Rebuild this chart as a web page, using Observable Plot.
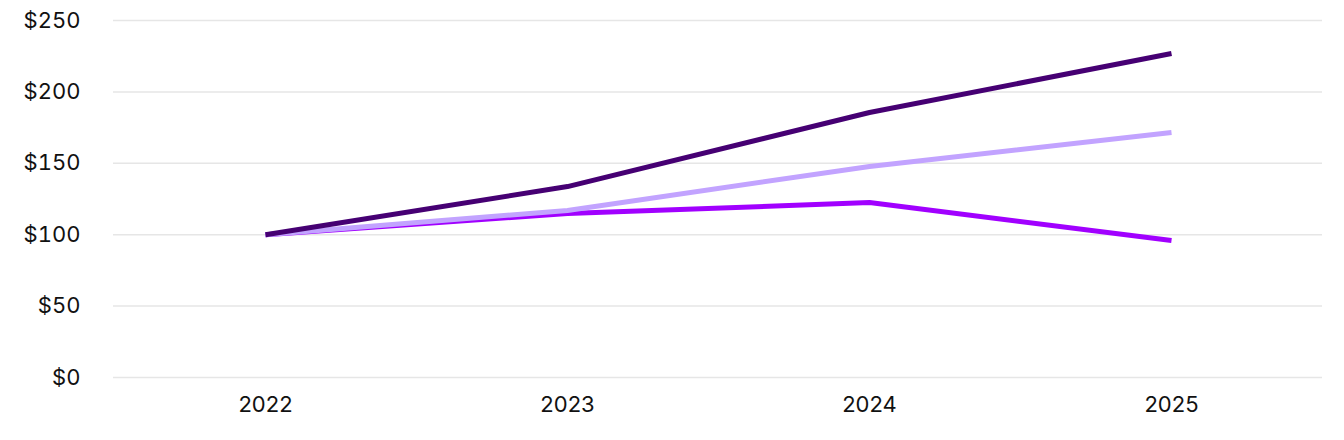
<!DOCTYPE html>
<html>
<head>
<meta charset="utf-8">
<script src="https://cdn.jsdelivr.net/npm/d3@7"></script>
<script src="https://cdn.jsdelivr.net/npm/@observablehq/plot@0.6"></script>
<style>
  html, body { margin: 0; padding: 0; background: #fff; }
  #chart svg { display: block; }
</style>
</head>
<body>
<div id="chart"></div>
<script>
const years = ["2022", "2023", "2024", "2025"];
const seriesNames = ["Company", "Index A", "Index B"];
const companyValues = [100, 114.8, 122.5, 96];
const indexAValues = [100, 117, 147.8, 171.6];
const indexBValues = [100, 133.7, 185.6, 226.9];
const seriesColors = ["#A100FF", "#C2A3FF", "#460073"];
const yTicks = [0, 50, 100, 150, 200, 250];

const valuesBySeries = [companyValues, indexAValues, indexBValues];
const data = seriesNames.flatMap((s, i) =>
  years.map((y, j) => ({series: s, year: y, value: valuesBySeries[i][j]}))
);

const chart = Plot.plot({
  width: 1344,
  height: 440,
  marginLeft: 113,
  marginRight: 22,
  marginTop: 20,
  marginBottom: 63,
  style: {fontFamily: "Inter, 'Noto Sans', sans-serif", fontSize: "22px", color: "#111"},
  x: {type: "point", domain: years, padding: 0.5, label: null},
  y: {domain: [0, 250], label: null},
  color: {domain: seriesNames, range: seriesColors},
  marks: [
    Plot.gridY(yTicks, {stroke: "#e6e6e6", strokeOpacity: 1, strokeWidth: 1.5}),
    Plot.axisY(yTicks, {tickSize: 0, tickPadding: 33, tickFormat: d => "$" + d, fontSize: 22, label: null}),
    Plot.axisX({tickSize: 0, tickPadding: 19, fontSize: 22, label: null}),
    Plot.line(data, {x: "year", y: "value", z: "series", stroke: "series", strokeWidth: 5, strokeLinecap: "butt", strokeLinejoin: "round"})
  ]
});
document.getElementById("chart").appendChild(chart);
</script>
</body>
</html>
